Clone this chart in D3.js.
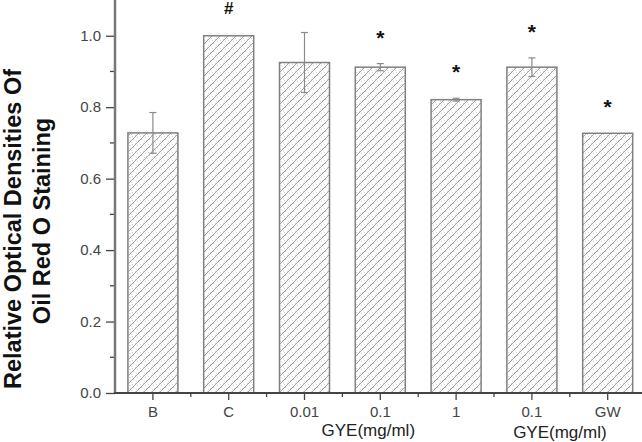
<!DOCTYPE html>
<html><head><meta charset="utf-8">
<script src="https://cdn.jsdelivr.net/npm/d3@7"></script>
<style>
html,body{margin:0;padding:0;background:#fff;}
svg{display:block;}
text{font-family:"Liberation Sans",Arial,Helvetica,sans-serif;}
</style></head>
<body><svg id="chart" width="642" height="442"></svg>
<script>
// ---- data ----
const categories = ["B", "C", "0.01", "0.1", "1", "0.1", "GW"];
const values     = [0.728, 1.0, 0.925, 0.912, 0.821, 0.912, 0.727];
const errors     = [0.057, 0, 0.084, 0.010, 0.004, 0.026, 0];
const marks      = ["", "#", "", "*", "*", "*", "*"];
const yTicks     = [0, 0.2, 0.4, 0.6, 0.8, 1.0];
const yMinor     = [0.1, 0.3, 0.5, 0.7, 0.9];
const yLabelLines = ["Relative Optical Densities Of", "Oil Red O Staining"];
const groupLabel = "GYE(mg/ml)";

const svg = d3.select("#chart");
const W = 642, H = 442;
const left = 115, bottom = 393, step = 75.8;

const idx = d3.range(categories.length);
const x = d3.scaleBand().domain(idx).range([left, left + step * categories.length])
  .paddingInner(0.34).paddingOuter(0.17);
const y = d3.scaleLinear().domain([0, 1.1]).range([bottom, 0]);

// pattern: diagonal hatch + stipple
const defs = svg.append("defs");
const pat = defs.append("pattern").attr("id", "hatch")
  .attr("patternUnits", "userSpaceOnUse").attr("width", 8).attr("height", 8);
pat.append("rect").attr("width", 8).attr("height", 8).attr("fill", "#fff");
[[1,1],[5,3],[3,6],[7,7],[2,4],[6,1],[4,0],[0,5]].forEach(p =>
  pat.append("rect").attr("x", p[0]).attr("y", p[1]).attr("width", 0.8).attr("height", 0.8).attr("fill", "#bbb"));
pat.append("path").attr("d", "M-1,9 L9,-1 M-1,1 L1,-1 M7,9 L9,7")
  .attr("stroke", "#999").attr("stroke-width", 0.9);

// bars
svg.append("g").selectAll("rect").data(idx).join("rect")
  .attr("x", i => x(i)).attr("y", i => y(values[i]))
  .attr("width", x.bandwidth()).attr("height", i => y(0) - y(values[i]))
  .attr("fill", "url(#hatch)").attr("stroke", "#808080").attr("stroke-width", 1.5);

// error bars
const eg = svg.append("g").attr("stroke", "#8a8a8a").attr("stroke-width", 1.2);
idx.filter(i => errors[i] > 0).forEach(i => {
  const cx = x(i) + x.bandwidth() / 2;
  eg.append("line").attr("x1", cx).attr("x2", cx)
    .attr("y1", y(values[i] + errors[i])).attr("y2", y(values[i] - errors[i]));
  [values[i] + errors[i], values[i] - errors[i]].forEach(v =>
    eg.append("line").attr("x1", cx - 3.5).attr("x2", cx + 3.5).attr("y1", y(v)).attr("y2", y(v)));
});

// significance marks
svg.append("g").selectAll("text").data(idx.filter(i => marks[i])).join("text")
  .attr("x", i => x(i) + x.bandwidth() / 2)
  .attr("y", i => y(values[i] + errors[i]) - (marks[i] === "*" ? 19 : 22))
  .attr("text-anchor", "middle")
  .attr("font-size", i => marks[i] === "*" ? 21 : 17)
  .attr("font-weight", "bold").attr("fill", "#111")
  .text(i => marks[i]);

// y axis
const yAxis = svg.append("g").attr("transform", `translate(${left},0)`)
  .call(d3.axisLeft(y).tickValues(yTicks).tickSize(9).tickPadding(5).tickFormat(d3.format(".1f")));
yAxis.select(".domain").remove();
yAxis.selectAll(".tick line").attr("stroke", "#444").attr("stroke-width", 1.3);
yAxis.selectAll(".tick text").attr("font-size", 15).attr("fill", "#444")
  .attr("font-family", "'Liberation Sans',Arial,sans-serif");
svg.append("g").selectAll("line").data(yMinor).join("line")
  .attr("x1", left - 5).attr("x2", left).attr("y1", d => y(d)).attr("y2", d => y(d))
  .attr("stroke", "#444").attr("stroke-width", 1.3);
svg.append("line").attr("x1", left).attr("x2", left).attr("y1", y(1.1)).attr("y2", bottom)
  .attr("stroke", "#777").attr("stroke-width", 2.5);

// x axis
const xAxis = svg.append("g").attr("transform", `translate(0,${bottom})`)
  .call(d3.axisBottom(x).tickSize(7).tickPadding(6).tickFormat(i => categories[i]));
xAxis.select(".domain").remove();
xAxis.selectAll(".tick line").attr("stroke", "#444").attr("stroke-width", 1.3);
xAxis.selectAll(".tick text").attr("font-size", 15).attr("fill", "#444")
  .attr("font-family", "'Liberation Sans',Arial,sans-serif");
svg.append("g").selectAll("line").data(d3.range(1, categories.length)).join("line")
  .attr("x1", i => x(i) + x.bandwidth() / 2 - x.step() / 2)
  .attr("x2", i => x(i) + x.bandwidth() / 2 - x.step() / 2)
  .attr("y1", bottom).attr("y2", bottom + 4)
  .attr("stroke", "#444").attr("stroke-width", 1.3);
svg.append("line").attr("x1", left - 1).attr("x2", W).attr("y1", bottom).attr("y2", bottom)
  .attr("stroke", "#444").attr("stroke-width", 2);

// group labels
svg.append("text").attr("x", x(3) + x.bandwidth() / 2 - 12).attr("y", 436)
  .attr("text-anchor", "middle").attr("font-size", 17).attr("fill", "#222").text(groupLabel);
svg.append("text").attr("x", x(5) + x.bandwidth() / 2 + 28).attr("y", 438)
  .attr("text-anchor", "middle").attr("font-size", 17).attr("fill", "#222").text(groupLabel);

// y label
svg.append("text").attr("transform", "translate(21,229) rotate(-90)")
  .attr("text-anchor", "middle").attr("font-size", 23.5).attr("font-weight", "bold").attr("fill", "#111")
  .text(yLabelLines[0]);
svg.append("text").attr("transform", "translate(50,221) rotate(-90)")
  .attr("text-anchor", "middle").attr("font-size", 23.5).attr("font-weight", "bold").attr("fill", "#111")
  .text(yLabelLines[1]);
</script></body></html>
